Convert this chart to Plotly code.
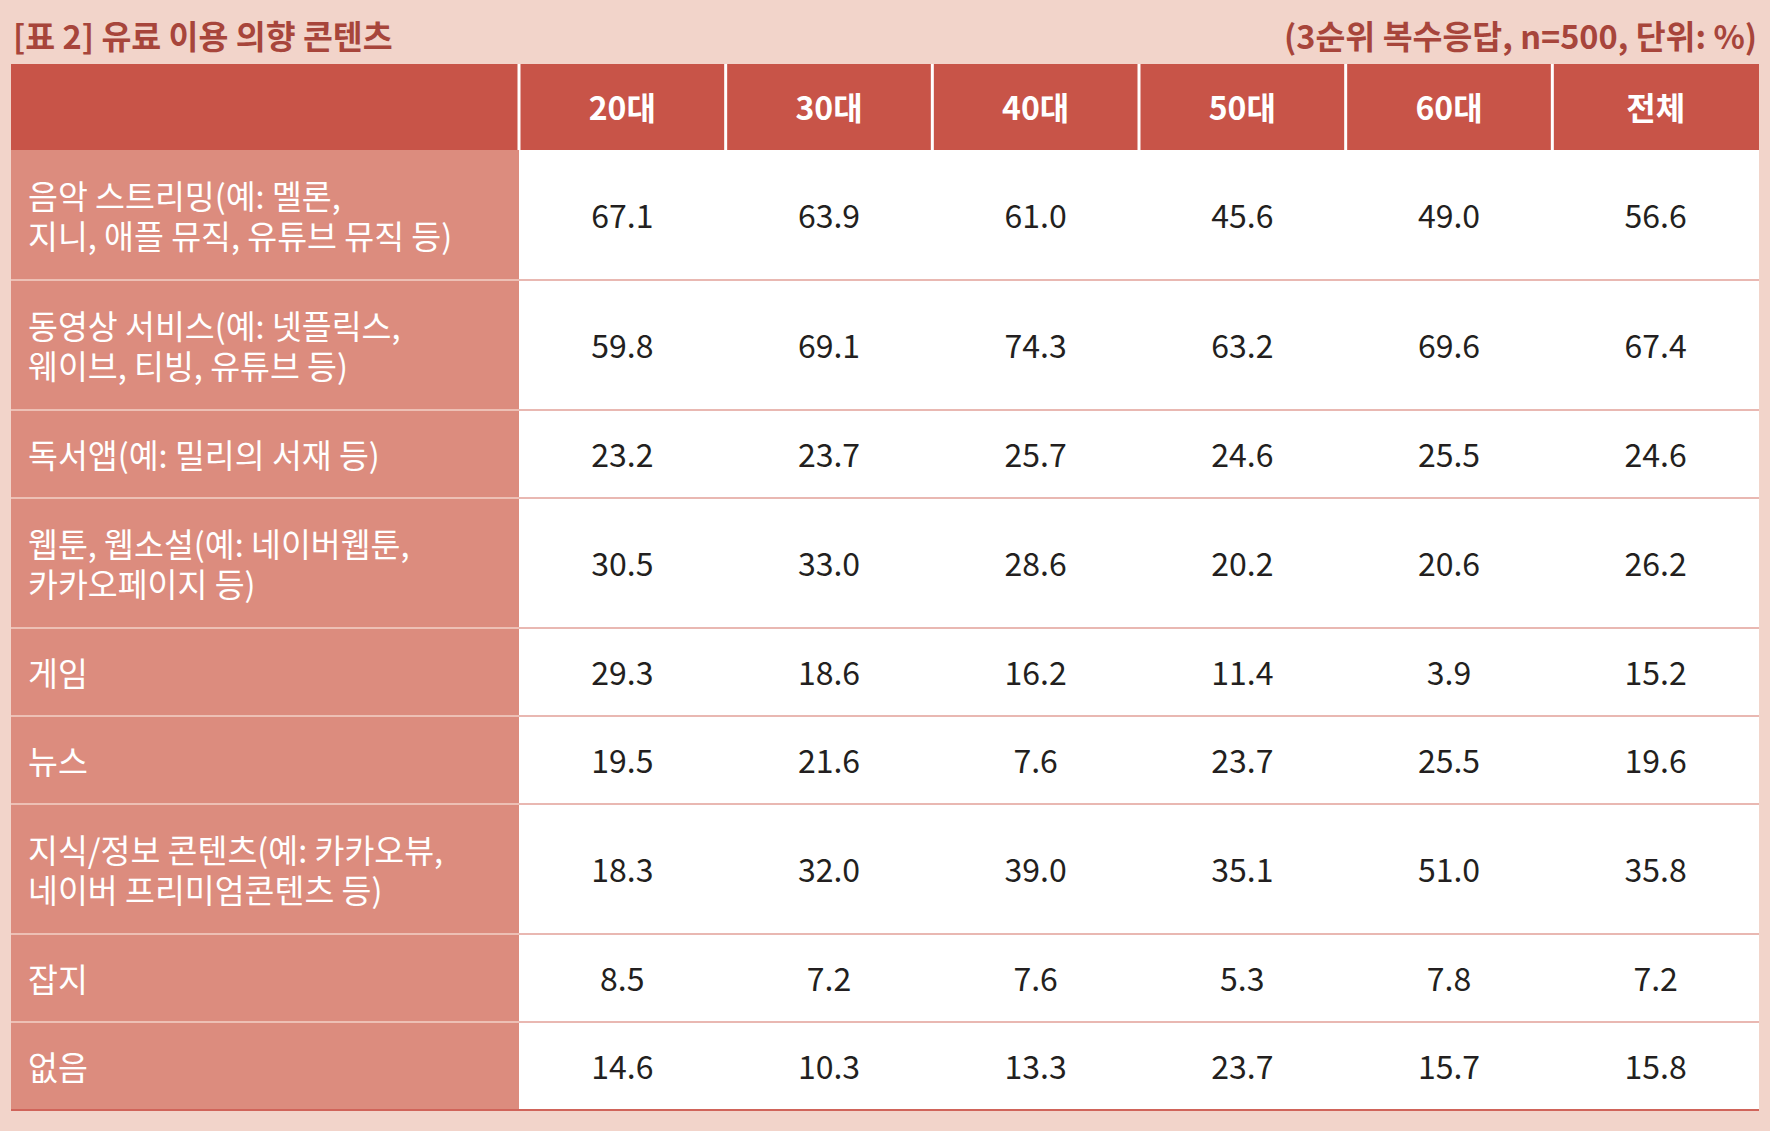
import plotly.graph_objects as go

# table data
title = "[표 2] 유료 이용 의향 콘텐츠"
note = "(3순위 복수응답, n=500, 단위: %)"
columns = ["20대", "30대", "40대", "50대", "60대", "전체"]
items = [
    "음악 스트리밍(예: 멜론,<br>지니, 애플 뮤직, 유튜브 뮤직 등)",
    "동영상 서비스(예: 넷플릭스,<br>웨이브, 티빙, 유튜브 등)",
    "독서앱(예: 밀리의 서재 등)",
    "웹툰, 웹소설(예: 네이버웹툰,<br>카카오페이지 등)",
    "게임",
    "뉴스",
    "지식/정보 콘텐츠(예: 카카오뷰,<br>네이버 프리미엄콘텐츠 등)",
    "잡지",
    "없음",
]
age20 = [67.1, 59.8, 23.2, 30.5, 29.3, 19.5, 18.3, 8.5, 14.6]
age30 = [63.9, 69.1, 23.7, 33.0, 18.6, 21.6, 32.0, 7.2, 10.3]
age40 = [61.0, 74.3, 25.7, 28.6, 16.2, 7.6, 39.0, 7.6, 13.3]
age50 = [45.6, 63.2, 24.6, 20.2, 11.4, 23.7, 35.1, 5.3, 23.7]
age60 = [49.0, 69.6, 25.5, 20.6, 3.9, 25.5, 51.0, 7.8, 15.7]
total = [56.6, 67.4, 24.6, 26.2, 15.2, 19.6, 35.8, 7.2, 15.8]
values = [age20, age30, age40, age50, age60, total]

# layout (pixels)
W, H = 1770, 1131
left, right = 11, 1759
label_w = 508
head_top, head_bot = 64, 150
h_two, h_one = 130, 88
line_gap = 39.5
col_w = (right - left - label_w) / len(columns)

BG = "#F2D4CA"
HEAD = "#C85448"
LABEL = "#DC8C7E"
TITLE_C = "#A7453B"
FONT = "Noto Sans CJK KR"

# row edges from label line counts
edges = [head_bot]
for it in items:
    edges.append(edges[-1] + (h_two if "<br>" in it else h_one))
centers = [(a + b) / 2 for a, b in zip(edges[:-1], edges[1:])]
col_x0 = [left + label_w + i * col_w for i in range(len(columns))]
col_cx = [x + col_w / 2 for x in col_x0]

# split labels into separate lines so the line spacing can be set
lab_txt, lab_y = [], []
for it, cy in zip(items, centers):
    parts = it.split("<br>")
    for k, p in enumerate(parts):
        lab_txt.append(p)
        lab_y.append(cy + 6 + (k - (len(parts) - 1) / 2) * line_gap)

shapes = []
# header band
shapes.append(dict(type="rect", x0=left, x1=right, y0=head_top, y1=head_bot,
                   fillcolor=HEAD, line_width=0, layer="below"))
# white separators in header
for x in col_x0:
    shapes.append(dict(type="line", x0=x, x1=x, y0=head_top, y1=head_bot,
                       line=dict(color="white", width=3), layer="below"))
# label column and data cells
shapes.append(dict(type="rect", x0=left, x1=left + label_w, y0=edges[0], y1=edges[-1],
                   fillcolor=LABEL, line_width=0, layer="below"))
shapes.append(dict(type="rect", x0=left + label_w, x1=right, y0=edges[0], y1=edges[-1],
                   fillcolor="white", line_width=0, layer="below"))
for y in edges[1:-1]:
    shapes.append(dict(type="line", x0=left, x1=left + label_w, y0=y, y1=y,
                       line=dict(color="#F3D2C9", width=1.5), layer="below"))
    shapes.append(dict(type="line", x0=left + label_w, x1=right, y0=y, y1=y,
                       line=dict(color="#E2A198", width=1.5), layer="below"))
shapes.append(dict(type="line", x0=left, x1=right, y0=edges[-1], y1=edges[-1],
                   line=dict(color="#D0645A", width=2), layer="below"))

fig = go.Figure()

# header labels
fig.add_trace(go.Scatter(
    x=col_cx, y=[(head_top + head_bot) / 2 + 5] * len(columns), mode="text",
    text=["<b>" + c + "</b>" for c in columns],
    textfont=dict(family=FONT, size=32, color="white"),
    textposition="middle center", hoverinfo="skip"))

# row labels
fig.add_trace(go.Scatter(
    x=[left + 17] * len(lab_txt), y=lab_y, mode="text", text=lab_txt,
    textfont=dict(family=FONT, size=32.5, color="white"),
    textposition="middle right", hoverinfo="skip"))

# values
for cx, vals in zip(col_cx, values):
    fig.add_trace(go.Scatter(
        x=[cx] * len(vals), y=[c + 5 for c in centers], mode="text",
        text=[f"{v:.1f}" for v in vals],
        textfont=dict(family=FONT, size=32, color="#231F20"),
        textposition="middle center", hoverinfo="skip"))

fig.add_annotation(x=left, y=34, xref="x", yref="y", text="<b>" + title + "</b>",
                   showarrow=False, xanchor="left", yanchor="middle",
                   font=dict(family=FONT, size=32.5, color=TITLE_C))
fig.add_annotation(x=right, y=34, xref="x", yref="y", text="<b>" + note + "</b>",
                   showarrow=False, xanchor="right", yanchor="middle",
                   font=dict(family=FONT, size=32.5, color=TITLE_C))

fig.update_layout(
    width=W, height=H, margin=dict(l=0, r=0, t=0, b=0),
    paper_bgcolor=BG, plot_bgcolor=BG, showlegend=False, shapes=shapes,
    xaxis=dict(range=[0, W], visible=False, fixedrange=True),
    yaxis=dict(range=[H, 0], visible=False, fixedrange=True),
)

fig.write_html("out.html", config={"displayModeBar": False},
               post_script="document.body.style.margin='0';"
                           "document.body.style.background='" + BG + "';")
